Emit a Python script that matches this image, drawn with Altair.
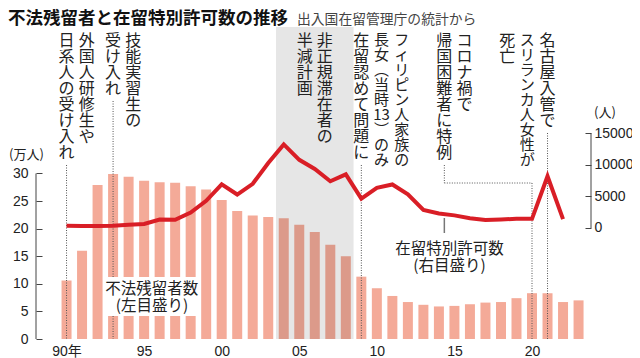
import altair as alt
import pandas as pd

# ---------------- data ----------------
BAR_YEARS = list(range(1990, 2024))
OVERSTAYERS = [10.6, 16.0, 27.9, 29.9, 29.4, 28.7, 28.4, 28.3, 27.7, 27.1,
               25.2, 23.2, 22.4, 22.1, 21.9, 20.7, 19.4, 17.1, 15.0, 11.3,
               9.2, 7.8, 6.7, 6.2, 5.9, 6.0, 6.3, 6.6, 6.7, 7.4,
               8.3, 8.3, 6.7, 7.0]
LINE_YEARS = list(range(1990, 2023))
PERMITS = [350, 300, 300, 350, 500, 650, 1350, 1300, 2450, 4300,
           6900, 5300, 7000, 10300, 13250, 10800, 9350, 7400, 8500, 4650,
           6350, 6900, 5350, 2850, 2300, 2000, 1550, 1250, 1350, 1450,
           1450, 8200, 1400]
SHADE_YEARS = [2004, 2008]
X_TICKS = [1990, 1995, 2000, 2005, 2010, 2015, 2020]
X_TICK_LABELS = ["90年", "95", "00", "05", "10", "15", "20"]
LEFT_TICKS = [0, 5, 10, 15, 20, 25, 30]
RIGHT_TICKS = [0, 5000, 10000, 15000]
TITLE = "不法残留者と在留特別許可数の推移"
SOURCE = "出入国在留管理庁の統計から"
LEFT_UNIT = "(万人)"
RIGHT_UNIT = "(人)"
BAR_LABEL = ["不法残留者数", "(左目盛り)"]
LINE_LABEL = ["在留特別許可数", "(右目盛り)"]
NOTE_YEARS = [1990, 1993, 2006, 2009, 2020, 2021]
NOTE_TEXTS = [
    ["外国人研修生や", "日系人の受け入れ"],
    ["技能実習生の", "受け入れ"],
    ["非正規滞在者の", "半減計画"],
    ["フィリピン人家族の", "長女︵当時13︶のみ", "在留認めて問題に"],
    ["コロナ禍で", "帰国困難者に特例"],
    ["名古屋入管で", "スリランカ人女性が", "死亡"],
]

# ---------------- layout / style ----------------
W, H = 555, 312
XS = alt.Scale(domain=[1988.354, 2023.48], nice=False, zero=False)
YL_MAX = 56.55
YL = alt.Scale(domain=[0, YL_MAX], nice=False, zero=False)
YR = alt.Scale(domain=[-17583, 31839], nice=False, zero=False)

NOTE_ANCHOR_X = [1990, 1993, 2006, 2009, 2014.35, 2021]
NOTE_MODE = ["last", "last", "center", "last", "last", "first"]
NOTE_LEADER = [True, True, False, True, True, True]
COMPACT = {"フィリピン人家族の", "長女︵当時13︶のみ", "スリランカ人女性が"}
STEP = 1.3
TEXT_TOP = 6
LH, LH_COMPACT = 16, 15
GAP = 4
ELBOW = 156

NUMF = "Liberation Sans, Arial, Noto Sans CJK JP, sans-serif"
JPF = "Noto Sans CJK JP"
BAR_LIGHT, BAR_DARK = "#F4AA98", "#DC9A8A"
RED = "#D91E26"
AXC = "#444444"
TXT = "#222222"


def px_left(px):
    return (H - px) * YL_MAX / H


def tokens(s):
    out = []
    for ch in s:
        if ch.isdigit() and out and out[-1].isdigit():
            out[-1] += ch
        else:
            out.append(ch)
    return out


expr = "''"
for v, lab in reversed(list(zip(X_TICKS, X_TICK_LABELS))):
    expr = f"datum.value == {v} ? '{lab}' : ({expr})"

XAXIS = alt.Axis(values=X_TICKS, labelExpr=expr, title=None, domain=False,
                 ticks=False, tickSize=0, grid=False, labelPadding=5,
                 labelFontSize=14, labelFont=NUMF, labelColor=TXT, labelFlush=False)
LEFT_AXIS = alt.Axis(orient="left", values=LEFT_TICKS, title=None, offset=-6,
                     tickSize=6, tickColor=AXC, domain=False, grid=False,
                     labelPadding=8, labelFontSize=14, labelFont=NUMF, labelColor=TXT)
RIGHT_AXIS = alt.Axis(orient="right", values=RIGHT_TICKS, format="d", title=None,
                      offset=-6, tickSize=6, tickColor=AXC, domain=False, grid=False,
                      labelPadding=3, labelFontSize=14, labelFont=NUMF, labelColor=TXT)


def X(field):
    return alt.X(field, type="quantitative", scale=XS, axis=XAXIS)


def YLft(field):
    return alt.Y(field, type="quantitative", scale=YL, axis=LEFT_AXIS)


# ---------------- tables ----------------
bars_df = pd.DataFrame({"year": BAR_YEARS, "value": OVERSTAYERS})
line_df = pd.DataFrame({"year": LINE_YEARS, "permits": PERMITS})

rows, segs = [], []
for year, lines, ax, mode, lead in zip(NOTE_YEARS, NOTE_TEXTS, NOTE_ANCHOR_X, NOTE_MODE, NOTE_LEADER):
    n = len(lines)
    if mode == "last":
        first = ax + (n - 1) * STEP
    elif mode == "first":
        first = ax
    else:
        first = ax + (n - 1) * STEP / 2
    for i, ln in enumerate(lines):
        rows.append({"x": first - i * STEP, "text": "\n".join(tokens(ln)),
                     "compact": ln in COMPACT})
    if lead:
        anchor_line = lines[-1] if mode == "last" else lines[0]
        lh = LH_COMPACT if anchor_line in COMPACT else LH
        top_px = TEXT_TOP + len(tokens(anchor_line)) * lh + GAP
        if ax == year:
            segs.append((year, year, top_px, H))
        else:
            segs.append((ax, ax, top_px, ELBOW))
            segs.append((ax, year, ELBOW, ELBOW))
            segs.append((year, year, ELBOW, H))

notes_df = pd.DataFrame(rows)
seg_df = pd.DataFrame([{"x": a, "x2": b, "y": px_left(c), "y2": px_left(d)} for a, b, c, d in segs])

# ---------------- layers ----------------
shade = alt.Chart(pd.DataFrame({"x0": [SHADE_YEARS[0] - 0.5], "x1": [SHADE_YEARS[1] + 0.5]})).mark_rect(
    color="#E6E6E6").encode(x=X("x0"), x2="x1", y=alt.value(0), y2=alt.value(H))

shade_test = f"datum.year >= {SHADE_YEARS[0]} && datum.year <= {SHADE_YEARS[1]}"
bars = alt.Chart(bars_df).mark_bar(size=10, orient="vertical").encode(
    x=X("year"), y=YLft("value"),
    color=alt.condition(shade_test, alt.value(BAR_DARK), alt.value(BAR_LIGHT)))

dots = alt.Chart(seg_df).mark_rule(color="#555555", strokeWidth=1, strokeDash=[1, 1.5]).encode(
    x=X("x"), x2="x2", y=YLft("y"), y2="y2")

box = alt.Chart(pd.DataFrame({"x0": [1992.45], "x1": [1998.55],
                              "y0": [px_left(289)], "y1": [px_left(250)]})).mark_rect(color="white").encode(
    x=X("x0"), x2="x1", y=YLft("y0"), y2="y1")

bar_label = alt.Chart(pd.DataFrame({"x": [1995.5], "t": ["\n".join(BAR_LABEL)]})).mark_text(
    font=JPF, fontSize=15.5, color=TXT, align="center", baseline="top", lineBreak="\n",
    lineHeight=16.5).encode(x=X("x"), y=alt.value(255), text="t:N")

leader = alt.Chart(pd.DataFrame({"x": [2014.35], "y0": [px_left(191)], "y1": [px_left(206)]})).mark_rule(
    color="#777777", strokeWidth=1.5).encode(x=X("x"), y=YLft("y0"), y2="y1")

line_label = alt.Chart(pd.DataFrame({"x": [2014.68], "t": ["\n".join(LINE_LABEL)]})).mark_text(
    font=JPF, fontSize=15.5, color=TXT, align="center", baseline="top", lineBreak="\n",
    lineHeight=16.5).encode(x=X("x"), y=alt.value(215), text="t:N")

notes_n = alt.Chart(notes_df[~notes_df["compact"]]).mark_text(
    font=JPF, fontSize=16, color=TXT, align="center", baseline="top", lineBreak="\n",
    lineHeight=LH).encode(x=X("x"), y=alt.value(TEXT_TOP), text="text:N")
notes_c = alt.Chart(notes_df[notes_df["compact"]]).mark_text(
    font=JPF, fontSize=15, color=TXT, align="center", baseline="top", lineBreak="\n",
    lineHeight=LH_COMPACT).encode(x=X("x"), y=alt.value(TEXT_TOP), text="text:N")

laxis = alt.Chart(pd.DataFrame({"a": [LEFT_TICKS[0]], "b": [LEFT_TICKS[-1]]})).mark_rule(
    color=AXC, strokeWidth=1).encode(x=alt.value(0), y=YLft("a"), y2="b")

lunit = alt.Chart(pd.DataFrame({"t": [LEFT_UNIT]})).mark_text(
    font=JPF, fontSize=13, color=TXT, align="left", baseline="middle").encode(
    x=alt.value(-27), y=alt.value(128), text="t:N")
runit = alt.Chart(pd.DataFrame({"t": [RIGHT_UNIT]})).mark_text(
    font=JPF, fontSize=13, color=TXT, align="left", baseline="middle").encode(
    x=alt.value(558), y=alt.value(86), text="t:N")

title = alt.Chart(pd.DataFrame({"t": [TITLE]})).mark_text(
    font=JPF, fontSize=17.5, fontWeight="bold", color="#111111", align="left",
    baseline="alphabetic").encode(x=alt.value(-28), y=alt.value(-3), text="t:N")
source = alt.Chart(pd.DataFrame({"t": [SOURCE]})).mark_text(
    font=JPF, fontSize=13.8, color="#444444", align="left",
    baseline="alphabetic").encode(x=alt.value(261), y=alt.value(-3.5), text="t:N")

line = alt.Chart(line_df).mark_line(color=RED, strokeWidth=4, strokeJoin="miter").encode(
    x=X("year"), y=alt.Y("permits:Q", scale=YR, axis=RIGHT_AXIS))
raxis = alt.Chart(pd.DataFrame({"a": [RIGHT_TICKS[0]], "b": [RIGHT_TICKS[-1]]})).mark_rule(
    color=AXC, strokeWidth=1).encode(
    x=alt.value(W), y=alt.Y("a:Q", scale=YR, axis=RIGHT_AXIS), y2="b")

left_group = alt.layer(shade, bars, dots, box, bar_label, leader, line_label,
                       notes_n, notes_c, laxis, lunit, runit, title, source)
right_group = alt.layer(line, raxis)

chart = alt.layer(left_group, right_group).resolve_scale(y="independent").properties(
    width=W, height=H,
    autosize=alt.AutoSizeParams(type="none"),
    padding={"left": 28, "top": 19, "right": 41, "bottom": 19},
).configure_view(stroke=None)

chart.save("out.html", embed_options={"renderer": "svg", "actions": False})
